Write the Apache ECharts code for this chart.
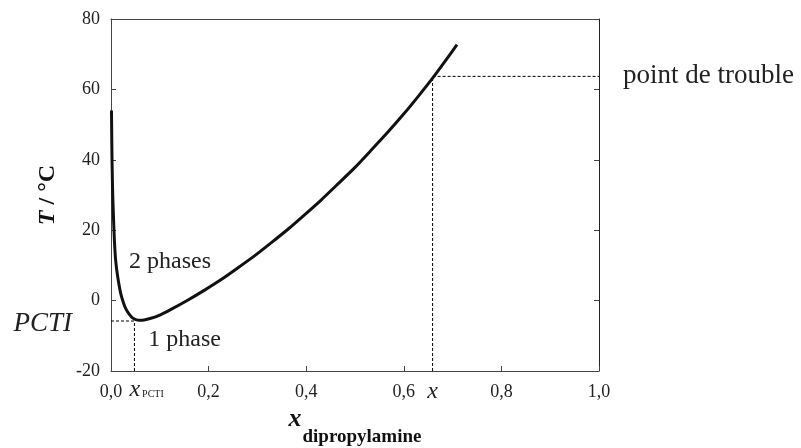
<!DOCTYPE html>
<html>
<head>
<meta charset="utf-8">
<script src="https://cdn.jsdelivr.net/npm/echarts@6/dist/echarts.min.js"></script>
<style>html,body{margin:0;padding:0;background:#fff}#c{width:801px;height:448px}</style>
</head>
<body>
<div id="c"></div>
<script>
// Curve: mole fraction of dipropylamine vs temperature (°C)
const curveX = [0.001, 0.0015, 0.002, 0.003, 0.004, 0.005, 0.007, 0.0095, 0.0135, 0.02, 0.026, 0.031, 0.038, 0.044, 0.051, 0.058, 0.068, 0.08, 0.1, 0.123, 0.157, 0.191, 0.225, 0.259, 0.294, 0.328, 0.362, 0.396, 0.43, 0.464, 0.499, 0.533, 0.567, 0.601, 0.63, 0.659, 0.684, 0.709];
const curveT = [54, 47, 41, 33, 28, 24, 17, 11.5, 7, 2, -0.8, -2.5, -4, -4.9, -5.4, -5.6, -5.5, -5.1, -4.1, -2.5, 0.1, 2.9, 5.9, 9.2, 12.7, 16.4, 20.2, 24.3, 28.5, 33.0, 37.7, 42.7, 47.8, 53.2, 58.1, 63.2, 67.9, 72.7];
const pctiX = 0.048, pctiT = -5.8;
const cloudX = 0.659, cloudT = 63.7;
const xTickValues = [0, 0.2, 0.4, 0.6, 0.8, 1.0];
const yTickValues = [-20, 0, 20, 40, 60, 80];
const annotationText = ['2 phases', '1 phase'];
const annotationX = [0.121, 0.151];
const annotationT = [11, -11];

const serif = 'Liberation Serif';
const ink = '#222';
const axisColor = '#444';

const curveData = curveX.map((x, i) => [x, curveT[i]]);
const xLabelValues = xTickValues.slice(0, 4).concat([cloudX], xTickValues.slice(4));
const yLabelValues = yTickValues.slice(0, 1).concat([pctiT], yTickValues.slice(1));
const xStep = xTickValues[1] - xTickValues[0];
const yStep = yTickValues[1] - yTickValues[0];

const chart = echarts.init(document.getElementById('c'), null, {renderer: 'canvas'});
const dash = {color: '#000', width: 1, type: [3, 2]};
const tickStyle = {show: true, inside: true, length: 5, lineStyle: {color: axisColor, width: 1}};
chart.setOption({
  animation: false,
  backgroundColor: '#fff',
  grid: {left: 111, right: 202, top: 19, bottom: 77, containLabel: false, outerBoundsMode: 'none'},
  xAxis: [{
    type: 'value', min: xTickValues[0], max: xTickValues[xTickValues.length - 1], interval: xStep, position: 'bottom',
    axisLine: {show: true, onZero: false, lineStyle: {color: axisColor, width: 1}},
    axisTick: tickStyle,
    splitLine: {show: false},
    axisLabel: {
      customValues: xLabelValues, margin: 12, fontFamily: serif, fontSize: 18, color: ink,
      showMinLabel: true, showMaxLabel: true, hideOverlap: false,
      formatter: v => (Math.abs(v - cloudX) < 1e-9 ? '{xc|x}' : v.toFixed(1).replace('.', ',')),
      rich: {
        xc: {fontFamily: serif, fontStyle: 'italic', fontSize: 24, lineHeight: 18, color: ink}
      }
    },
    name: '{x|x}{sub|dipropylamine}',
    nameLocation: 'middle', nameGap: 35, nameMoveOverlap: false,
    nameTextStyle: {
      rich: {
        x: {fontFamily: serif, fontStyle: 'italic', fontWeight: 'bold', fontSize: 26, lineHeight: 26, verticalAlign: 'top', color: '#111'},
        sub: {fontFamily: serif, fontWeight: 'bold', fontSize: 19, lineHeight: 19, verticalAlign: 'top', padding: [22, 0, 0, 1], color: '#111'}
      }
    }
  }, {
    type: 'value', min: xTickValues[0], max: xTickValues[xTickValues.length - 1], position: 'top',
    axisLine: {show: true, onZero: false, lineStyle: {color: axisColor, width: 1}},
    axisTick: {show: false}, axisLabel: {show: false}, splitLine: {show: false}
  }],
  yAxis: [{
    type: 'value', min: yTickValues[0], max: yTickValues[yTickValues.length - 1], interval: yStep, position: 'left',
    axisLine: {show: true, onZero: false, lineStyle: {color: axisColor, width: 1}},
    axisTick: tickStyle,
    splitLine: {show: false},
    axisLabel: {
      customValues: yLabelValues, margin: 11, fontFamily: serif, fontSize: 18, color: ink,
      showMinLabel: true, showMaxLabel: true, hideOverlap: false,
      formatter: v => (Math.abs(v - pctiT) < 1e-9 ? '{p|PCTI}' : String(v)),
      rich: {
        p: {fontFamily: serif, fontStyle: 'italic', fontSize: 27, color: ink, padding: [6, 28, 0, 0]}
      }
    },
    name: '{t|T}{r| / °C}',
    nameLocation: 'middle', nameGap: 51, nameRotate: 90, nameMoveOverlap: false,
    nameTextStyle: {
      rich: {
        t: {fontFamily: serif, fontStyle: 'italic', fontWeight: 'bold', fontSize: 24, color: '#111'},
        r: {fontFamily: serif, fontWeight: 'bold', fontSize: 24, color: '#111'}
      }
    }
  }, {
    type: 'value', min: yTickValues[0], max: yTickValues[yTickValues.length - 1], interval: yStep, position: 'right',
    axisLine: {show: true, onZero: false, lineStyle: {color: '#222', width: 1}},
    axisTick: tickStyle,
    axisLabel: {show: false}, splitLine: {show: false}
  }],
  series: [
    {
      type: 'line', data: curveData, showSymbol: false, smooth: 0.2,
      lineStyle: {color: '#111', width: 3}, z: 5
    },
    {type: 'line', data: [[0, pctiT], [pctiX, pctiT]], showSymbol: false, lineStyle: dash},
    {type: 'line', data: [[pctiX, -20], [pctiX, pctiT]], showSymbol: false, lineStyle: dash},
    {type: 'line', data: [[cloudX, -20], [cloudX, cloudT]], showSymbol: false, lineStyle: dash},
    {
      type: 'line', data: [[cloudX, cloudT], [1, cloudT]], showSymbol: false, lineStyle: dash,
      endLabel: {show: true, formatter: 'point de trouble', distance: 24, fontFamily: serif, fontSize: 27, color: ink}
    },
    {
      type: 'scatter', symbolSize: 0, itemStyle: {color: '#000', opacity: 1},
      data: annotationText.map((t, i) => ({name: t, value: [annotationX[i], annotationT[i]]})),
      label: {show: true, position: 'inside', formatter: p => p.name, fontFamily: serif, fontSize: 24,
        color: ink, textBorderWidth: 0, textBorderColor: 'transparent', opacity: 1}
    },
    {
      type: 'scatter', symbolSize: 0, itemStyle: {color: '#000', opacity: 1},
      data: [{name: 'xPCTI', value: [pctiX, -20]}],
      label: {show: true, position: 'bottom', distance: 10, align: 'left', offset: [-5, 0],
        formatter: '{xi|x}{sc|PCTI}', textBorderWidth: 0,
        rich: {
          xi: {fontFamily: serif, fontStyle: 'italic', fontSize: 24, lineHeight: 18, color: ink},
          sc: {fontFamily: serif, fontSize: 10, lineHeight: 10, verticalAlign: 'bottom', color: ink, padding: [0, 0, 0, 2]}
        }}
    }
  ]
});
</script>
</body>
</html>
